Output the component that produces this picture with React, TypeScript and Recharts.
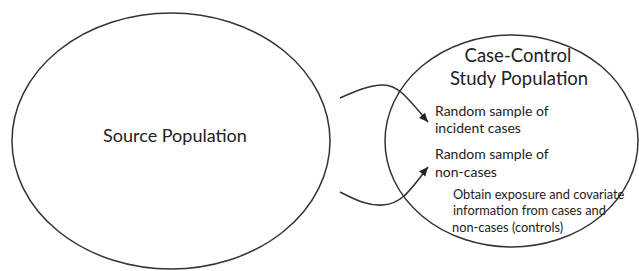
import { ComposedChart, Line, ReferenceArea, Scatter, XAxis, YAxis } from 'recharts';

const W = 639;
const H = 271;

// ellipses as bounding boxes (chart units = pixels)
const ellipses = [
  { name: 'source', x1: 12, x2: 330, y1: 13, y2: 269 },
  { name: 'study', x1: 385, x2: 638, y1: 35, y2: 247 },
];

const upperArrow = [
  { x: 340, y: 98 },
  { x: 362, y: 89 },
  { x: 383, y: 85 },
  { x: 402, y: 93 },
  { x: 428, y: 122 },
];

const lowerArrow = [
  { x: 340, y: 192 },
  { x: 362, y: 202 },
  { x: 383, y: 205 },
  { x: 404, y: 196 },
  { x: 428, y: 167 },
];

const labels = [
  { x: 175, y: 135, text: 'Source Population', size: 18, anchor: 'middle' },
  { x: 518, y: 55, text: 'Case-Control', size: 18.5, anchor: 'middle' },
  { x: 519, y: 78, text: 'Study Population', size: 18.5, anchor: 'middle' },
  { x: 435, y: 110, text: 'Random sample of', size: 14, anchor: 'start' },
  { x: 435, y: 127, text: 'incident cases', size: 14, anchor: 'start' },
  { x: 435, y: 153, text: 'Random sample of', size: 14, anchor: 'start' },
  { x: 435, y: 171, text: 'non-cases', size: 14, anchor: 'start' },
  { x: 453, y: 194, text: 'Obtain exposure and covariate', size: 12.8, anchor: 'start' },
  { x: 453, y: 210, text: 'information from cases and', size: 12.8, anchor: 'start' },
  { x: 452, y: 227, text: 'non-cases (controls)', size: 12.8, anchor: 'start' },
];

const stroke = '#333';

const EllipseShape = (props: any) => {
  const { x, y, width, height } = props;
  return (
    <ellipse
      cx={x + width / 2}
      cy={y + height / 2}
      rx={Math.abs(width) / 2}
      ry={Math.abs(height) / 2}
      fill="none"
      stroke={stroke}
      strokeWidth={1.5}
    />
  );
};

const arrowDot = (angle: number, last: number) => (props: any) => {
  const { cx, cy, index } = props;
  if (index !== last) return <g key={index} />;
  return (
    <path
      key={index}
      d="M0,0 L-9,-4 L-9,4 Z"
      fill="#222"
      transform={`translate(${cx},${cy}) rotate(${angle})`}
    />
  );
};

const LabelShape = (props: any) => {
  const { cx, cy, payload } = props;
  return (
    <text
      x={cx}
      y={cy}
      textAnchor={payload.anchor}
      dominantBaseline="central"
      fontSize={payload.size}
      fontFamily="Lato, 'Open Sans', sans-serif"
      fill="#222"
    >
      {payload.text}
    </text>
  );
};

export default function App() {
  return (
    <div style={{ position: 'absolute', left: 0, top: 0, background: '#fff' }}>
      <ComposedChart width={W} height={H} margin={{ top: 0, right: 0, bottom: 0, left: 0 }}>
        <XAxis type="number" dataKey="x" domain={[0, W]} hide allowDataOverflow />
        <YAxis type="number" dataKey="y" domain={[0, H]} reversed hide allowDataOverflow />
        {ellipses.map((e) => (
          <ReferenceArea key={e.name} x1={e.x1} x2={e.x2} y1={e.y1} y2={e.y2} shape={EllipseShape} ifOverflow="visible" />
        ))}
        <Line
          data={upperArrow}
          dataKey="y"
          type="natural"
          stroke={stroke}
          strokeWidth={1.6}
          dot={arrowDot(48, upperArrow.length - 1)}
          activeDot={false}
          isAnimationActive={false}
        />
        <Line
          data={lowerArrow}
          dataKey="y"
          type="natural"
          stroke={stroke}
          strokeWidth={1.6}
          dot={arrowDot(-50, lowerArrow.length - 1)}
          activeDot={false}
          isAnimationActive={false}
        />
        <Scatter data={labels} dataKey="y" shape={LabelShape} isAnimationActive={false} />
      </ComposedChart>
    </div>
  );
}
